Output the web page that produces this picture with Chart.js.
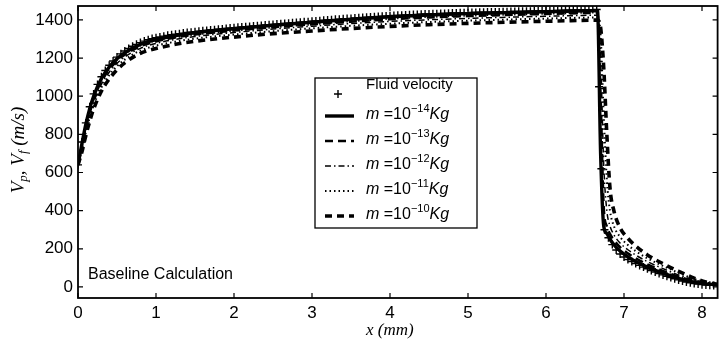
<!DOCTYPE html>
<html>
<head>
<meta charset="utf-8">
<script src="https://cdn.jsdelivr.net/npm/chart.js@4.4.1/dist/chart.umd.min.js"></script>
<style>
  html, body { margin: 0; padding: 0; background: #fff; }
  #wrap { width: 723px; height: 345px; position: relative; }
</style>
</head>
<body>
<div id="wrap"><canvas id="velocityChart" width="723" height="345"></canvas></div>
<script>
// Axis ticks
const xTicks = [0, 1, 2, 3, 4, 5, 6, 7, 8];
const yTicks = [0, 200, 400, 600, 800, 1000, 1200, 1400];

// Fluid velocity (m/s) along x (mm)
const fluidX = [
  0.00, 0.05, 0.10, 0.15, 0.20, 0.25, 0.30, 0.35, 0.40, 0.45,
  0.50, 0.55, 0.60, 0.65, 0.70, 0.75, 0.80, 0.85, 0.90, 0.95,
  1.00, 1.05, 1.10, 1.15, 1.20, 1.25, 1.30, 1.35, 1.40, 1.45,
  1.50, 1.55, 1.60, 1.65, 1.70, 1.75, 1.80, 1.85, 1.90, 1.95,
  2.00, 2.05, 2.10, 2.15, 2.20, 2.25, 2.30, 2.35, 2.40, 2.45,
  2.50, 2.55, 2.60, 2.65, 2.70, 2.75, 2.80, 2.85, 2.90, 2.95,
  3.00, 3.05, 3.10, 3.15, 3.20, 3.25, 3.30, 3.35, 3.40, 3.45,
  3.50, 3.55, 3.60, 3.65, 3.70, 3.75, 3.80, 3.85, 3.90, 3.95,
  4.00, 4.05, 4.10, 4.15, 4.20, 4.25, 4.30, 4.35, 4.40, 4.45,
  4.50, 4.55, 4.60, 4.65, 4.70, 4.75, 4.80, 4.85, 4.90, 4.95,
  5.00, 5.05, 5.10, 5.15, 5.20, 5.25, 5.30, 5.35, 5.40, 5.45,
  5.50, 5.55, 5.60, 5.65, 5.70, 5.75, 5.80, 5.85, 5.90, 5.95,
  6.00, 6.05, 6.10, 6.15, 6.20, 6.25, 6.30, 6.35, 6.40, 6.45,
  6.50, 6.55, 6.60, 6.65, 6.68, 6.71, 6.75,
  6.80, 6.85, 6.90, 6.95, 7.00, 7.05, 7.10, 7.15, 7.20, 7.25,
  7.30, 7.35, 7.40, 7.45, 7.50, 7.55, 7.60, 7.65, 7.70, 7.75,
  7.80, 7.85, 7.90, 7.95, 8.00, 8.05, 8.10, 8.15, 8.20
];
const fluidV = [
  640, 760, 860, 945, 1012, 1062, 1102, 1135, 1162, 1185,
  1205, 1222, 1237, 1250, 1262, 1272, 1281, 1289, 1296, 1302,
  1307, 1311, 1315, 1319, 1322, 1325, 1328, 1331, 1334, 1336,
  1338, 1341, 1343, 1345, 1347, 1349, 1351, 1353, 1355, 1357,
  1359, 1361, 1363, 1364, 1366, 1368, 1370, 1371, 1373, 1375,
  1376, 1378, 1380, 1381, 1383, 1385, 1386, 1388, 1390, 1391,
  1393, 1395, 1396, 1398, 1400, 1401, 1403, 1404, 1406, 1407,
  1408, 1410, 1411, 1413, 1414, 1415, 1417, 1418, 1419, 1420,
  1422, 1423, 1424, 1425, 1426, 1427, 1428, 1429, 1430, 1431,
  1431, 1432, 1433, 1434, 1434, 1435, 1436, 1436, 1437, 1438,
  1438, 1439, 1439, 1440, 1440, 1441, 1441, 1442, 1442, 1443,
  1443, 1444, 1444, 1445, 1445, 1446, 1446, 1447, 1447, 1448,
  1448, 1449, 1449, 1450, 1450, 1451, 1451, 1452, 1452, 1453,
  1453, 1454, 1454, 1455, 1050, 620, 300,
  258, 222, 194, 173, 157, 144, 133, 123, 113, 104,
  95, 86, 78, 70, 63, 56, 49, 43, 37, 31,
  26, 22, 18, 15, 12, 10, 9, 8, 8
];

// Particle velocity (m/s) for each particle mass
const particleX = [
  0, 0.05, 0.1, 0.15, 0.2, 0.3, 0.4, 0.5, 0.6, 0.8,
  1.0, 1.25, 1.5, 2.0, 2.5, 3.0, 3.5, 4.0, 4.5, 5.0,
  5.5, 6.0, 6.4, 6.66, 6.70, 6.74, 6.78, 6.82, 6.87, 6.95,
  7.05, 7.15, 7.3, 7.5, 7.7, 7.9, 8.05, 8.2
];
const mass14 = [
  640, 750, 852, 935, 1000, 1092, 1153, 1196, 1228, 1272,
  1296, 1318, 1333, 1354, 1372, 1388, 1403, 1416, 1426, 1433,
  1438, 1443, 1447, 1449, 700, 320, 280, 250, 222, 188,
  158, 134, 104, 72, 45, 25, 16, 10
];
const mass13 = [
  640, 740, 838, 920, 985, 1078, 1140, 1185, 1218, 1262,
  1287, 1308, 1323, 1344, 1362, 1377, 1391, 1403, 1413, 1420,
  1426, 1431, 1435, 1437, 1000, 420, 318, 278, 246, 208,
  176, 150, 118, 84, 54, 30, 18, 11
];
const mass12 = [
  640, 730, 824, 904, 968, 1062, 1126, 1172, 1206, 1251,
  1277, 1298, 1313, 1334, 1352, 1367, 1381, 1392, 1401, 1408,
  1414, 1419, 1423, 1425, 1200, 640, 400, 320, 274, 230,
  195, 167, 133, 96, 63, 36, 21, 12
];
const mass11 = [
  640, 720, 810, 888, 952, 1046, 1110, 1157, 1192, 1239,
  1265, 1286, 1302, 1323, 1341, 1356, 1369, 1380, 1389, 1396,
  1402, 1407, 1411, 1413, 1320, 900, 560, 400, 320, 262,
  220, 188, 150, 110, 74, 42, 24, 13
];
const mass10 = [
  640, 708, 793, 868, 932, 1026, 1090, 1138, 1175, 1225,
  1250, 1272, 1288, 1310, 1328, 1342, 1355, 1366, 1375, 1382,
  1388, 1393, 1397, 1399, 1360, 1150, 800, 520, 400, 310,
  255, 215, 168, 122, 82, 46, 26, 14
];

const massExps = ['−14', '−13', '−12', '−11', '−10'];
const massDash = [[], [8, 5], [6, 3, 1.5, 3], [1.5, 3], [7, 5]];
const massWidth = [3.4, 2.5, 1.5, 2, 3.6];

const SANS = '"Liberation Sans", Arial, sans-serif';
const SERIF = '"Liberation Serif", "Times New Roman", serif';

const pts = (xs, ys) => xs.map((x, i) => ({ x, y: ys[i] }));

function lineSet(label, ys, i) {
  return {
    label,
    data: pts(particleX, ys),
    borderColor: '#000',
    borderWidth: massWidth[i],
    borderDash: massDash[i],
    pointRadius: 0,
    cubicInterpolationMode: 'monotone',
    fill: false
  };
}

// draws a run of text pieces, each with its own font and baseline shift
function drawRuns(ctx, runs, x, y) {
  runs.forEach(r => {
    ctx.font = r.font;
    ctx.fillText(r.text, x, y + (r.dy || 0));
    x += ctx.measureText(r.text).width;
  });
  return x;
}

function runsWidth(ctx, runs) {
  return runs.reduce((w, r) => { ctx.font = r.font; return w + ctx.measureText(r.text).width; }, 0);
}

const framePlugin = {
  id: 'frame',
  afterDatasetsDraw(chart) {
    const { ctx, chartArea: a, scales: { x, y } } = chart;
    ctx.save();
    ctx.strokeStyle = '#000';
    ctx.fillStyle = '#000';

    // box
    ctx.lineWidth = 1.8;
    ctx.strokeRect(a.left, a.top, a.right - a.left, a.bottom - a.top);

    // inward ticks
    ctx.lineWidth = 1.2;
    ctx.beginPath();
    xTicks.forEach(v => {
      const px = x.getPixelForValue(v);
      ctx.moveTo(px, a.bottom); ctx.lineTo(px, a.bottom - 5);
      ctx.moveTo(px, a.top); ctx.lineTo(px, a.top + 5);
    });
    yTicks.forEach(v => {
      const py = y.getPixelForValue(v);
      ctx.moveTo(a.left, py); ctx.lineTo(a.left + 5, py);
      ctx.moveTo(a.right, py); ctx.lineTo(a.right - 5, py);
    });
    ctx.stroke();

    // tick labels
    ctx.font = '17px ' + SANS;
    ctx.textBaseline = 'middle';
    ctx.textAlign = 'center';
    xTicks.forEach(v => ctx.fillText(String(v), x.getPixelForValue(v), a.bottom + 15));
    ctx.textAlign = 'right';
    yTicks.forEach(v => ctx.fillText(String(v), a.left - 5, y.getPixelForValue(v)));

    // x title
    ctx.textAlign = 'center';
    ctx.font = 'italic 17px ' + SERIF;
    ctx.fillText('x (mm)', (a.left + a.right) / 2 - 8, a.bottom + 33);

    // y title with subscripts
    const yRuns = [
      { text: 'V', font: 'italic 19px ' + SERIF },
      { text: 'p', font: 'italic 13px ' + SERIF, dy: 5 },
      { text: ', ', font: 'italic 19px ' + SERIF },
      { text: 'V', font: 'italic 19px ' + SERIF },
      { text: 'f', font: 'italic 13px ' + SERIF, dy: 5 },
      { text: ' (m/s)', font: 'italic 19px ' + SERIF }
    ];
    ctx.save();
    ctx.translate(19, (a.top + a.bottom) / 2 - 2);
    ctx.rotate(-Math.PI / 2);
    ctx.textAlign = 'left';
    drawRuns(ctx, yRuns, -runsWidth(ctx, yRuns) / 2, 0);
    ctx.restore();

    // case label
    ctx.textAlign = 'left';
    ctx.font = '16px ' + SANS;
    ctx.fillText('Baseline Calculation', a.left + 10, 275);

    // legend
    const lx = 315, ly = 78, lw = 162, lh = 150;
    ctx.fillStyle = '#fff';
    ctx.fillRect(lx, ly, lw, lh);
    ctx.fillStyle = '#000';
    ctx.lineWidth = 1.3;
    ctx.setLineDash([]);
    ctx.strokeRect(lx, ly, lw, lh);

    ctx.font = '15px ' + SANS;
    ctx.fillText('Fluid velocity', 366, 85);
    ctx.lineWidth = 1.4;
    ctx.beginPath();
    ctx.moveTo(334, 94); ctx.lineTo(342, 94);
    ctx.moveTo(338, 90); ctx.lineTo(338, 98);
    ctx.stroke();

    massExps.forEach((e, i) => {
      const ry = 113 + i * 25;
      ctx.lineWidth = massWidth[i];
      ctx.setLineDash(massDash[i]);
      ctx.beginPath();
      ctx.moveTo(325, ry + 3); ctx.lineTo(354, ry + 3);
      ctx.stroke();
      ctx.setLineDash([]);
      drawRuns(ctx, [
        { text: 'm', font: 'italic 16px ' + SANS },
        { text: ' =10', font: '16px ' + SANS },
        { text: e, font: '11px ' + SANS, dy: -6 },
        { text: 'Kg', font: 'italic 16px ' + SANS }
      ], 366, ry + 2);
    });
    ctx.restore();
  }
};

const chart = new Chart(document.getElementById('velocityChart'), {
  type: 'line',
  data: {
    datasets: [
      {
        label: 'Fluid velocity',
        data: pts(fluidX, fluidV),
        showLine: false,
        pointStyle: 'cross',
        pointRadius: 4,
        pointBorderWidth: 1.4,
        pointBorderColor: '#000',
        pointBackgroundColor: '#000'
      },
      lineSet('m=1e-14 Kg', mass14, 0),
      lineSet('m=1e-13 Kg', mass13, 1),
      lineSet('m=1e-12 Kg', mass12, 2),
      lineSet('m=1e-11 Kg', mass11, 3),
      lineSet('m=1e-10 Kg', mass10, 4)
    ]
  },
  options: {
    responsive: false,
    animation: false,
    events: [],
    layout: { padding: { left: 78, right: 1, top: 6, bottom: 47 } },
    scales: {
      x: { type: 'linear', min: 0, max: 8.2, display: false },
      y: { type: 'linear', min: -58, max: 1473, display: false }
    },
    plugins: {
      legend: { display: false },
      tooltip: { enabled: false }
    }
  },
  plugins: [framePlugin]
});
</script>
</body>
</html>
